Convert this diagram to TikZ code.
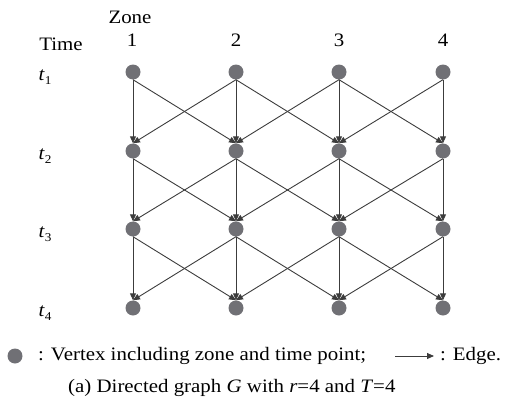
\documentclass[tikz,border=0pt]{standalone}
\usepackage{fontspec}
\setmainfont[FakeStretch=1.1]{Liberation Serif}
\usetikzlibrary{arrows.meta}
\definecolor{vgray}{RGB}{112,112,117}
\definecolor{egray}{RGB}{60,60,60}
\tikzset{
  vtx/.style={circle,fill=vgray,minimum size=15pt,inner sep=0pt},
  edge/.style={draw=egray,line width=0.9pt,-{Triangle[length=7pt,width=6pt]}},
  lbl/.style={inner sep=0pt,font=\fontsize{19}{22}\selectfont},
}
\newcommand{\tsub}[1]{\textit{t}\raisebox{-0.45ex}{\fontsize{12}{13}\selectfont #1}}
\begin{document}
\begin{tikzpicture}[x=1pt,y=-1pt]
\useasboundingbox (0,0) rectangle (507,402);
% headers
\node[lbl] (zone) at (130,17) {Zone};
\node[lbl] (time) at (61,44) {Time};
\foreach \c/\x in {1/132,2/236,3/339,4/443}{
  \node[lbl] (z\c) at (\x,40) {\c};
}
% time labels and vertices
\foreach \r/\y in {1/72,2/151,3/229,4/308}{
  \node[lbl] (t\r) at (45,\y+5) {\tsub{\r}};
  \foreach \c/\x in {1/133,2/236,3/339,4/443}{
    \node[vtx] (v\r\c) at (\x,\y) {};
  }
}
% edges
\foreach \r/\n in {1/2,2/3,3/4}{
  \foreach \c in {1,2,3,4}{
    \draw[edge] (v\r\c.south) -- (v\n\c.north);
  }
  \foreach \c/\d in {1/2,2/3,3/4}{
    \draw[edge] (v\r\c.south) -- (v\n\d.north);
    \draw[edge] (v\r\d.south) -- (v\n\c.north);
  }
}
% legend
\node[vtx] (lv) at (15,356) {};
\node[lbl,anchor=west] (ltxt) at (38,356) {: Vertex including zone and time point;};
\coordinate (la) at (395,356);
\coordinate (lb) at (434,356);
\draw[edge] (la) -- (lb);
\node[lbl,anchor=west] (ledge) at (440,356) {: Edge.};
\node[lbl,anchor=west] (cap) at (68,388) {(a) Directed graph \textit{G} with \textit{r}=4 and \textit{T}=4};
\end{tikzpicture}
\end{document}
